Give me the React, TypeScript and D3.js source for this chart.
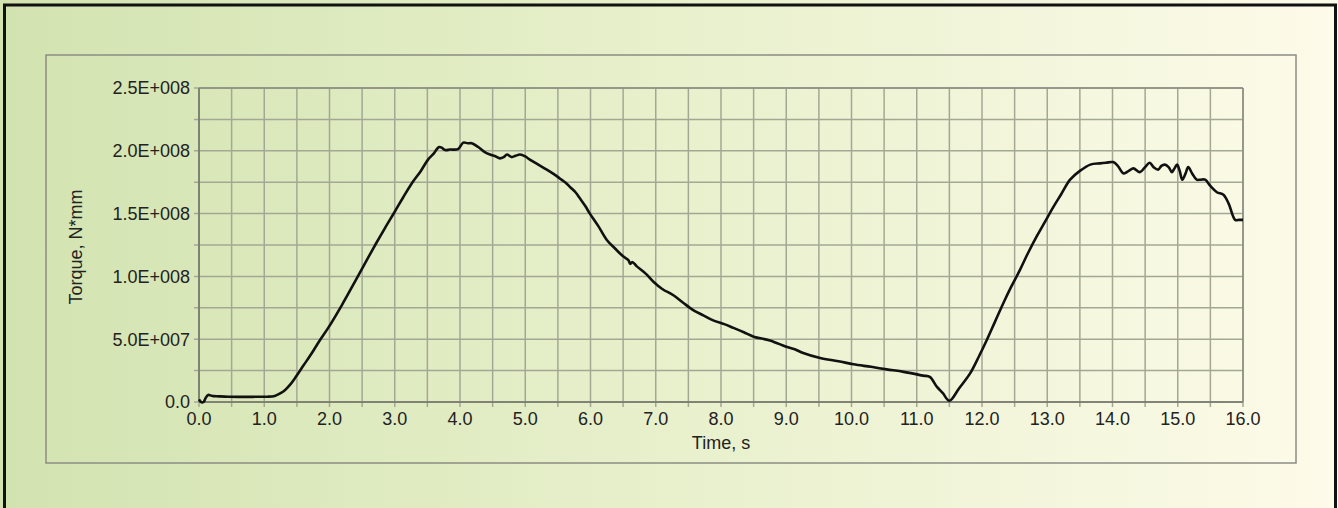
import React from "react";
import * as d3 from "d3";

const timeValues = [
  0.0, 0.03, 0.07, 0.1, 0.14, 0.19, 0.22, 0.3, 0.45, 0.6, 0.8, 0.96, 1.05, 1.16, 1.25, 1.32, 1.4, 1.47, 1.6, 1.73,
  1.85, 1.98, 2.19, 2.39, 2.55, 2.7, 2.85, 3.0, 3.13, 3.26, 3.4, 3.51, 3.6, 3.64, 3.68, 3.72, 3.77, 3.85, 3.97,
  4.05, 4.12, 4.18, 4.28, 4.38, 4.46, 4.55, 4.61, 4.67, 4.72, 4.79, 4.85, 4.92, 5.0, 5.07, 5.2, 5.33, 5.45, 5.53,
  5.62, 5.69, 5.77, 5.84, 5.92, 5.99, 6.12, 6.25, 6.38, 6.5, 6.58, 6.61, 6.64, 6.71, 6.85, 6.96, 7.1, 7.27, 7.42,
  7.58, 7.73, 7.88, 8.05, 8.19, 8.35, 8.5, 8.75, 9.0, 9.13, 9.26, 9.52, 9.8, 10.03, 10.3, 10.54, 10.8, 11.1, 11.2,
  11.31, 11.4, 11.5, 11.65, 11.82, 11.95, 12.07, 12.2, 12.33, 12.45, 12.58, 12.7, 12.84, 12.96, 13.09, 13.22, 13.35,
  13.5, 13.66, 13.81, 13.9, 14.01, 14.08, 14.17, 14.25, 14.32, 14.42, 14.5, 14.57, 14.63, 14.7, 14.75, 14.8, 14.86,
  14.91, 14.95, 14.99, 15.03, 15.07, 15.12, 15.16, 15.22, 15.29, 15.35, 15.42, 15.5, 15.6, 15.7, 15.78, 15.88, 15.94,
  16.0,
];

const torqueValues = [
  0.02, 0.0, 0.0, 0.03, 0.056, 0.05, 0.047, 0.045, 0.042, 0.041, 0.041, 0.042, 0.042, 0.048, 0.07, 0.096, 0.14, 0.19,
  0.29, 0.39, 0.49, 0.59, 0.772, 0.958, 1.11, 1.25, 1.385, 1.515, 1.63, 1.74, 1.84, 1.93, 1.98, 2.01, 2.03, 2.025,
  2.006, 2.01, 2.014, 2.065, 2.06, 2.06, 2.03, 1.99, 1.97, 1.955, 1.94, 1.95, 1.97, 1.95, 1.96, 1.97, 1.955, 1.93,
  1.89, 1.85, 1.81, 1.78, 1.745, 1.71, 1.67, 1.62, 1.56, 1.5, 1.4, 1.29, 1.22, 1.16, 1.13, 1.1, 1.115, 1.08, 1.02,
  0.96, 0.9, 0.85, 0.79, 0.73, 0.69, 0.65, 0.62, 0.59, 0.555, 0.52, 0.49, 0.44, 0.42, 0.39, 0.35, 0.325, 0.3, 0.28,
  0.26, 0.24, 0.21, 0.2, 0.12, 0.07, 0.01, 0.11, 0.23, 0.36, 0.49, 0.64, 0.79, 0.92, 1.05, 1.18, 1.32, 1.43, 1.55,
  1.66, 1.77, 1.84, 1.89, 1.9, 1.905, 1.91, 1.88, 1.82, 1.84, 1.86, 1.83, 1.87, 1.905, 1.87, 1.85, 1.88, 1.89, 1.87,
  1.83, 1.86, 1.89, 1.84, 1.77, 1.82, 1.87, 1.82, 1.77, 1.77, 1.77, 1.72, 1.67, 1.65, 1.58, 1.45, 1.45, 1.45,
];

const xTickLabels = ["0.0", "1.0", "2.0", "3.0", "4.0", "5.0", "6.0", "7.0", "8.0", "9.0", "10.0", "11.0", "12.0", "13.0", "14.0", "15.0", "16.0"];
const yTickLabels = ["0.0", "5.0E+007", "1.0E+008", "1.5E+008", "2.0E+008", "2.5E+008"];
const yTickValues = [0, 5e7, 1e8, 1.5e8, 2e8, 2.5e8];

const W = 1338;
const H = 508;
const left = 199;
const right = 1243;
const top = 88;
const bottom = 402;

export default function App() {
  const x = d3.scaleLinear().domain([0, 16]).range([left, right]);
  const y = d3.scaleLinear().domain([0, 2.5e8]).range([bottom, top]);

  const data = timeValues.map((t, i) => [t, torqueValues[i] * 1e8] as [number, number]);
  const line = d3
    .line<[number, number]>()
    .x((d) => x(d[0]))
    .y((d) => y(d[1]))
    .curve(d3.curveCatmullRom.alpha(0.5));

  const xGrid = d3.range(0, 16.01, 0.5);
  const yGrid = d3.range(0, 2.5e8 + 1, 2.5e7);
  const font = "'Liberation Sans', Arial, sans-serif";
  const fs = 18;

  return (
    <svg width={W} height={H} style={{ position: "absolute", left: 0, top: 0 }}>
      <defs>
        <linearGradient id="bg" x1="0" x2="1" y1="0" y2="0">
          <stop offset="0" stopColor="#d2e3b0" />
          <stop offset="0.5" stopColor="#e8f0cc" />
          <stop offset="1" stopColor="#fdfbe9" />
        </linearGradient>
      </defs>
      <rect x={0} y={0} width={W} height={H} fill="url(#bg)" />
      <path d={`M4.5,${H} V5 H1335.5 V${H}`} fill="none" stroke="#111" strokeWidth={3} />
      <rect x={46} y={55} width={1250} height={408} fill="none" stroke="#8c8c84" strokeWidth={1.5} />

      {xGrid.map((t) => (
        <line key={"xg" + t} x1={x(t)} x2={x(t)} y1={top} y2={bottom + 5} stroke="#a3a894" strokeWidth={1.5} />
      ))}
      {yGrid.map((v) => (
        <line key={"yg" + v} x1={left - 5} x2={right} y1={y(v)} y2={y(v)} stroke="#a3a894" strokeWidth={1.5} />
      ))}
      <line x1={left} x2={left} y1={top} y2={bottom} stroke="#6f7266" strokeWidth={1.5} />
      <line x1={left} x2={right} y1={bottom} y2={bottom} stroke="#6f7266" strokeWidth={1.5} />
      <line x1={right} x2={right} y1={top} y2={bottom} stroke="#8a8d80" strokeWidth={1.5} />
      <line x1={left} x2={right} y1={top} y2={top} stroke="#8a8d80" strokeWidth={1.5} />

      {yTickLabels.map((lab, i) => (
        <text key={lab} x={190} y={y(yTickValues[i])} dy="0.35em" textAnchor="end" fontFamily={font} fontSize={fs} fill="#222">
          {lab}
        </text>
      ))}
      {xTickLabels.map((lab, i) => (
        <text key={lab} x={x(i)} y={425} textAnchor="middle" fontFamily={font} fontSize={fs} fill="#222">
          {lab}
        </text>
      ))}
      <text x={721} y={449} textAnchor="middle" fontFamily={font} fontSize={fs} fill="#222">
        Time, s
      </text>
      <text transform={`translate(82,247) rotate(-90)`} textAnchor="middle" fontFamily={font} fontSize={fs} fill="#222">
        Torque, N*mm
      </text>

      <path d={line(data) || ""} fill="none" stroke="#111" strokeWidth={2.6} strokeLinejoin="round" />
    </svg>
  );
}
